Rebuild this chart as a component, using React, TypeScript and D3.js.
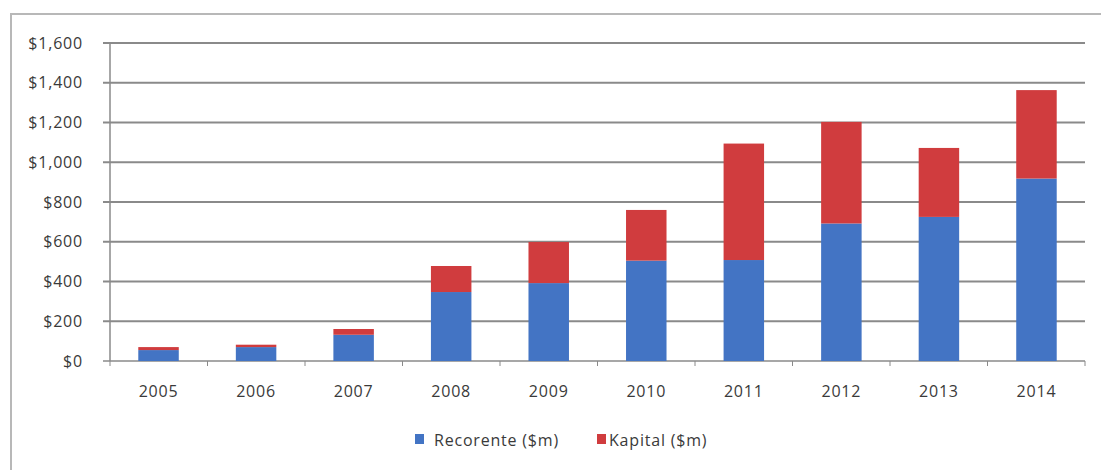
import React from "react";
import * as d3 from "d3";

const years = ["2005","2006","2007","2008","2009","2010","2011","2012","2013","2014"];
const recorente = [55, 70, 132, 347, 392, 505, 508, 692, 725, 918];
const kapital = [15, 12, 29, 131, 207, 255, 586, 511, 347, 445];
const yTicks = [0, 200, 400, 600, 800, 1000, 1200, 1400, 1600];
const seriesNames = ["Recorente ($m)", "Kapital ($m)"];
const colors = ["#4374c4", "#d03c3e"];

export default function App() {
  const W = 1101, H = 470;
  const left = 110, right = 1085, top = 43, bottom = 361;
  const x = d3.scaleBand().domain(years).range([left, right]).paddingInner(0.585).paddingOuter(0.29);
  const y = d3.scaleLinear().domain([0, 1600]).range([bottom, top]);
  const fmt = (v: number) => "$" + d3.format(",")(v);
  const stack = d3.stack<any>().keys(["r", "k"])(years.map((yr, i) => ({ r: recorente[i], k: kapital[i] })));
  const step = (right - left) / years.length;
  const font = "'Open Sans', 'Liberation Sans', sans-serif";
  const fs = 16;
  const ls = 0.8;
  return (
    <svg width={W} height={H} style={{ position: "absolute", left: 0, top: 0, background: "#fff" }}>
      <rect x={0} y={0} width={W} height={H} fill="#fff" />
      <path d={`M11,${H} L11,14 L${W},14`} fill="none" stroke="#b8b8b8" strokeWidth={2} />
      {yTicks.map((t) => (
        <g key={t}>
          <line x1={left - 7} x2={right} y1={y(t)} y2={y(t)} stroke="#8a8a8a" strokeWidth={t === 0 ? 1.5 : 2} />
          <text x={83} y={y(t)} dy="0.35em" textAnchor="end" fontFamily={font} fontSize={fs} letterSpacing={ls} fill="#3a3a3a">{fmt(t)}</text>
        </g>
      ))}
      <line x1={left} x2={left} y1={top} y2={bottom} stroke="#8a8a8a" strokeWidth={1.5} />
      {d3.range(years.length + 1).map((i) => (
        <line key={i} x1={left + i * step} x2={left + i * step} y1={bottom} y2={bottom + 5} stroke="#8a8a8a" strokeWidth={1} />
      ))}
      {stack.map((s, si) => (
        <g key={si} fill={colors[si]}>
          {s.map((d, i) => (
            <rect key={i} x={x(years[i])!} width={x.bandwidth()} y={y(d[1])} height={y(d[0]) - y(d[1])} />
          ))}
        </g>
      ))}
      {years.map((yr) => (
        <text key={yr} x={x(yr)! + x.bandwidth() / 2} y={391} dy="0.35em" textAnchor="middle" fontFamily={font} fontSize={fs} letterSpacing={ls} fill="#3a3a3a">{yr}</text>
      ))}
      <g fontFamily={font} fontSize={fs} letterSpacing={ls} fill="#3a3a3a">
        <rect x={415} y={434} width={9} height={10} fill={colors[0]} />
        <text x={434} y={440} dy="0.35em">{seriesNames[0]}</text>
        <rect x={597} y={434} width={9} height={10} fill={colors[1]} />
        <text x={609} y={440} dy="0.35em">{seriesNames[1]}</text>
      </g>
    </svg>
  );
}
